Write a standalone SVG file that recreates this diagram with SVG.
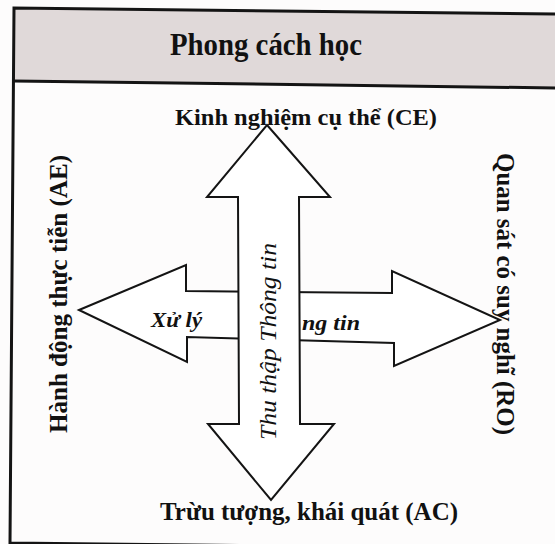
<svg xmlns="http://www.w3.org/2000/svg" width="555" height="544" viewBox="0 0 555 544">
<style>
.frame{fill:none;stroke:#141414;stroke-width:3}
.arrow{fill:#ffffff;stroke:#141414;stroke-width:2;stroke-linejoin:miter}
.lbl{font-family:"Liberation Serif","Times New Roman",serif;font-weight:bold;fill:#111}
.it{font-family:"Liberation Serif","Times New Roman",serif;font-style:italic;fill:#111}
</style>
<rect x="0" y="0" width="555" height="544" fill="#fdfcfc"/>
<g id="header">
<polygon points="14,8 558,14 558,88 14,81" fill="#e0d9d9"/>
<text class="lbl" x="266" y="55" font-size="32" text-anchor="middle" textLength="192" lengthAdjust="spacingAndGlyphs">Phong cách học</text>
</g>
<g id="frame">
<polyline class="frame" points="558,14 14,8 10,543 560,549"/>
<line class="frame" x1="14" y1="81" x2="558" y2="88"/>
</g>
<g id="connectors">
<polygon id="horizontal-arrow" class="arrow" points="79,310 186,265 186,291 392,293 392,271 500,320 394,366 394,343 187,337 187,362"/>
<text class="it" x="151" y="327" font-size="22" font-weight="bold" textLength="51" lengthAdjust="spacingAndGlyphs">Xử lý</text>
<text class="it" x="302" y="330" font-size="22" font-weight="bold" textLength="58" lengthAdjust="spacingAndGlyphs">ng tin</text>
<polygon id="vertical-arrow" class="arrow" points="267,125 330,197 299,197 300,424 334,424 271,500 208,424 239,424 238,197 207,197"/>
<text class="it" transform="translate(276,341.5) rotate(-90)" x="0" y="0" font-size="24" text-anchor="middle" textLength="197" lengthAdjust="spacingAndGlyphs">Thu thập Thông tin</text>
</g>
<g id="node-ce">
<text class="lbl" x="306" y="125" font-size="24" text-anchor="middle" textLength="262" lengthAdjust="spacingAndGlyphs">Kinh nghiệm cụ thể (CE)</text>
</g>
<g id="node-ac">
<text class="lbl" x="309" y="520" font-size="25" text-anchor="middle" textLength="298" lengthAdjust="spacingAndGlyphs">Trừu tượng, khái quát (AC)</text>
</g>
<g id="node-ae">
<text class="lbl" transform="translate(67,294) rotate(-90)" x="0" y="0" font-size="25" text-anchor="middle" textLength="278" lengthAdjust="spacingAndGlyphs">Hành động thực tiễn (AE)</text>
</g>
<g id="node-ro">
<text class="lbl" transform="translate(497,294) rotate(90)" x="0" y="0" font-size="25" text-anchor="middle" textLength="282" lengthAdjust="spacingAndGlyphs">Quan sát có suy nghĩ (RO)</text>
</g>
</svg>
